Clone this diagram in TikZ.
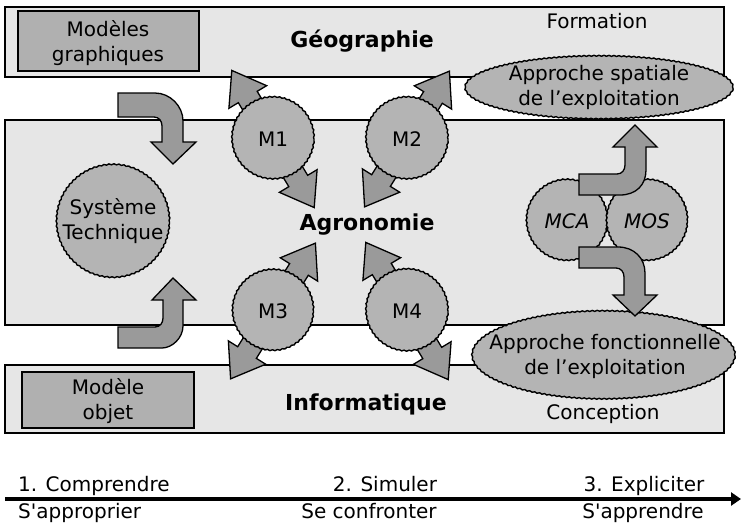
\documentclass[tikz,border=0pt]{standalone}
\usepackage{fontspec}
\setmainfont{DejaVu Sans}
\usetikzlibrary{arrows.meta,shapes.geometric,decorations.pathmorphing}

\definecolor{bandgray}{HTML}{E6E6E6}
\definecolor{boxgray}{HTML}{B0B0B0}
\definecolor{bubblegray}{HTML}{B4B4B4}
\definecolor{arrowgray}{HTML}{9A9A9A}

% two-headed block arrow centred on #1, axis at angle #2
\newcommand\twowayarrow[2]{%
  \begin{scope}[shift={(#1)}, rotate=#2]
    \draw[blockarrow] (-80,0) -- (-49,-22) -- (-49,-11) -- (49,-11) -- (49,-22)
      -- (80,0) -- (49,22) -- (49,11) -- (-49,11) -- (-49,22) -- cycle;
  \end{scope}}

\begin{document}
\begin{tikzpicture}[x=1pt, y=-1pt,
  txt/.style={font=\fontsize{20}{25}\selectfont, align=center, inner sep=0pt},
  title/.style={font=\fontsize{22}{26}\selectfont\bfseries, inner sep=0pt, anchor=base},
  band/.style={draw=black, line width=1.4pt, fill=bandgray},
  modelbox/.style={draw=black, line width=1.6pt, fill=boxgray},
  wobble/.style={decorate, decoration={snake, amplitude=0.5pt, segment length=5pt}},
  bubble/.style={circle, draw=black, line width=1.4pt, fill=bubblegray, inner sep=0pt,
    font=\fontsize{20}{25}\selectfont, wobble},
  blob/.style={ellipse, draw=black, line width=1.4pt, fill=bubblegray, inner sep=0pt, wobble},
  blockarrow/.style={draw=black, line width=1.3pt, fill=arrowgray, line join=miter},
  timeline/.style={line width=3.6pt, -{Triangle[length=10pt, width=13pt]}}
]
\useasboundingbox (0,0) rectangle (741,527);

% discipline bands
\draw[band] (5,7) rectangle (724,77);
\draw[band] (5,120) rectangle (724,325);
\draw[band] (5,365) rectangle (724,433);

% model boxes
\draw[modelbox] (18,11) rectangle (199,71);
\node[txt] (graphlbl) at (108,43) {Modèles\\graphiques};
\draw[modelbox] (22,372) rectangle (194,428);
\node[txt] (objlbl) at (108,401) {Modèle\\objet};

% discipline titles
\node[title] (geo) at (362,48) {Géographie};
\node[title] (agro) at (367,230) {Agronomie};
\node[title] (info) at (366,410) {Informatique};
\node[txt, anchor=base] (formation) at (597,29) {Formation};
\node[txt, anchor=base] (conception) at (603,419) {Conception};

% approaches of the farm
\node[blob, minimum width=268pt, minimum height=63pt] (spatial) at (599,88.5) {};
\node[txt] (spatiallbl) at (599,87) {Approche spatiale\\de l’exploitation};
\node[blob, minimum width=263pt, minimum height=88pt] (fonct) at (603.5,356) {};
\node[txt] (fonctlbl) at (605,356) {Approche fonctionnelle\\de l’exploitation};

% models M1..M4 with their two-way arrows
\coordinate (c1) at (273,139);
\coordinate (c2) at (407,139);
\coordinate (c3) at (273,311);
\coordinate (c4) at (407,311);
\twowayarrow{c1}{121}
\twowayarrow{c2}{58}
\twowayarrow{c3}{58}
\twowayarrow{c4}{121}
\node[bubble, minimum size=82pt] (m1) at (c1) {M1};
\node[bubble, minimum size=82pt] (m2) at (c2) {M2};
\node[bubble, minimum size=81pt] (m3) at (c3) {M3};
\node[bubble, minimum size=82pt] (m4) at (c4) {M4};

% technical system
\node[bubble, minimum size=113pt] (syst) at (113,222) {};
\node[txt] (systlbl) at (113,221) {Système\\Technique};
\draw[blockarrow] (118,93) -- (155,93) .. controls (170,93) and (183,106) .. (183,121)
  -- (183,142) -- (196,142) -- (173,164) -- (151,142) -- (162,142) -- (162,126)
  .. controls (162,121) and (159,117) .. (154,117) -- (118,117) -- cycle;
\draw[blockarrow] (118,327) -- (155,327) .. controls (160,327) and (163,323) .. (163,318)
  -- (163,300) -- (152,300) -- (173,278) -- (196,300) -- (183,300) -- (183,326)
  .. controls (183,338) and (172,348) .. (162,348) -- (118,348) -- cycle;

% MCA and MOS
\node[bubble, minimum size=81pt, font=\fontsize{20}{25}\selectfont\itshape] (mca) at (567,221) {MCA};
\node[bubble, minimum size=81pt, font=\fontsize{20}{25}\selectfont\itshape] (mos) at (647,221) {MOS};
\draw[blockarrow] (579,174) -- (617,174) .. controls (622,174) and (625,170) .. (625,165)
  -- (625,147) -- (613,147) -- (635,125) -- (657,147) -- (646,147) -- (646,170)
  .. controls (646,185) and (636,195) .. (620,195) -- (579,195) -- cycle;
\draw[blockarrow] (579,247) -- (618,247) .. controls (634,247) and (645,258) .. (645,273)
  -- (645,295) -- (657,295) -- (635,316) -- (613,295) -- (624,295) -- (624,277)
  .. controls (624,272) and (621,268) .. (616,268) -- (579,268) -- cycle;

% progression axis
\coordinate (t0) at (5,499);
\coordinate (t1) at (741,499);
\draw[timeline] (t0) -- (t1);
\node[txt, anchor=base west] (step1) at (18,491) {1. Comprendre};
\node[txt, anchor=base west] (own1) at (18,518) {S\textquotesingle approprier};
\node[txt, anchor=base] (step2) at (385,491) {2. Simuler};
\node[txt, anchor=base] (own2) at (369,518) {Se confronter};
\node[txt, anchor=base] (step3) at (644,491) {3. Expliciter};
\node[txt, anchor=base] (own3) at (643,518) {S\textquotesingle apprendre};
\end{tikzpicture}
\end{document}
